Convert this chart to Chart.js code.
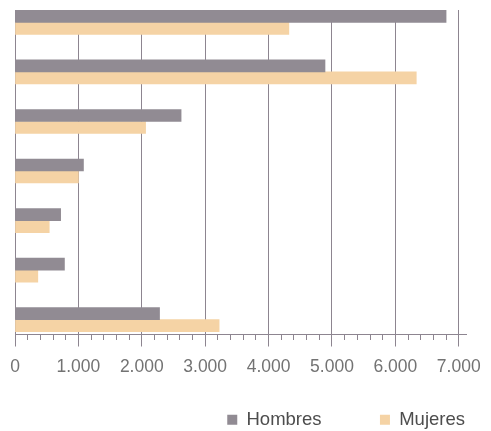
<!DOCTYPE html>
<html lang="es">
<head>
  <meta charset="UTF-8" />
  <title>Hombres y Mujeres</title>
  <script src="https://cdn.jsdelivr.net/npm/chart.js"></script>
  <style>
    html, body {
      margin: 0;
      padding: 0;
      background: #ffffff;
      overflow: hidden;
    }
    #wrap {
      width: 491px;
      height: 431px;
    }
  </style>
</head>
<body>
  <div id="wrap"><canvas id="chart" width="491" height="431"></canvas></div>

  <script>
    // Filas del gráfico (sin rótulo en el original), de arriba abajo
    const categorias = ['Grupo 1', 'Grupo 2', 'Grupo 3', 'Grupo 4', 'Grupo 5', 'Grupo 6', 'Grupo 7'];
    const hombres = [6800, 4890, 2620, 1080, 720, 780, 2280];
    const mujeres = [4320, 6330, 2060, 1000, 540, 360, 3220];
    const ejeMax = 7130;
    const pasoMenor = 200;
    const pasoMayor = 1000;

    const colorRejilla = '#8d8590';

    // miles con punto: 1.000, 2.000 ...
    function miles(v) {
      return String(v).replace(/\B(?=(\d{3})+(?!\d))/g, '.');
    }

    const serie = (valores) => valores.map((v, i) => ({ x: v, y: i }));

    new Chart(document.getElementById('chart'), {
      type: 'bar',
      data: {
        datasets: [
          {
            label: 'Hombres',
            data: serie(hombres),
            backgroundColor: '#918b93',
            barThickness: 12
          },
          {
            label: 'Mujeres',
            data: serie(mujeres),
            backgroundColor: '#f5d3a5',
            barThickness: 12
          }
        ]
      },
      options: {
        indexAxis: 'y',
        responsive: false,
        animation: false,
        layout: { padding: { left: 15, right: 19, top: 10, bottom: -8 } },
        plugins: {
          tooltip: {
            callbacks: {
              title: (items) => categorias[items[0].parsed.y]
            }
          },
          legend: {
            position: 'bottom',
            align: 'end',
            labels: {
              boxWidth: 10,
              boxHeight: 10,
              padding: 7,
              color: '#4d4d4d',
              font: { family: "'Liberation Sans', Arial, sans-serif", size: 18.5 },
              generateLabels: (chart) => {
                const items = Chart.defaults.plugins.legend.labels.generateLabels(chart);
                items.forEach((it, i) => {
                  it.lineWidth = 0;
                  if (i === 0) it.text = it.text + '\u00a0'.repeat(10);
                });
                return items;
              }
            }
          }
        },
        scales: {
          y: {
            type: 'linear',
            reverse: true,
            offset: false,
            min: -0.25,
            max: 6.3,
            display: false
          },
          x: {
            type: 'linear',
            min: 0,
            max: ejeMax,
            z: 1,
            border: { display: true, color: colorRejilla, width: 1 },
            grid: {
              color: (ctx) => ctx.tick && ctx.tick.value % pasoMayor === 0 ? colorRejilla : 'rgba(0,0,0,0)',
              lineWidth: 1,
              tickLength: 12,
              tickColor: colorRejilla,
              tickBorderDash: (ctx) => ctx.tick && ctx.tick.value % pasoMayor === 0 ? [] : [5, 30]
            },
            ticks: {
              stepSize: pasoMenor,
              includeBounds: false,
              autoSkip: false,
              maxRotation: 0,
              padding: 10,
              color: '#737373',
              font: { family: "'Liberation Sans', Arial, sans-serif", size: 17.5 },
              callback: (v) => v % pasoMayor === 0 ? miles(v) : ''
            },
            afterFit: (scale) => { scale.height += 16; }
          }
        }
      }
    });
  </script>
</body>
</html>
